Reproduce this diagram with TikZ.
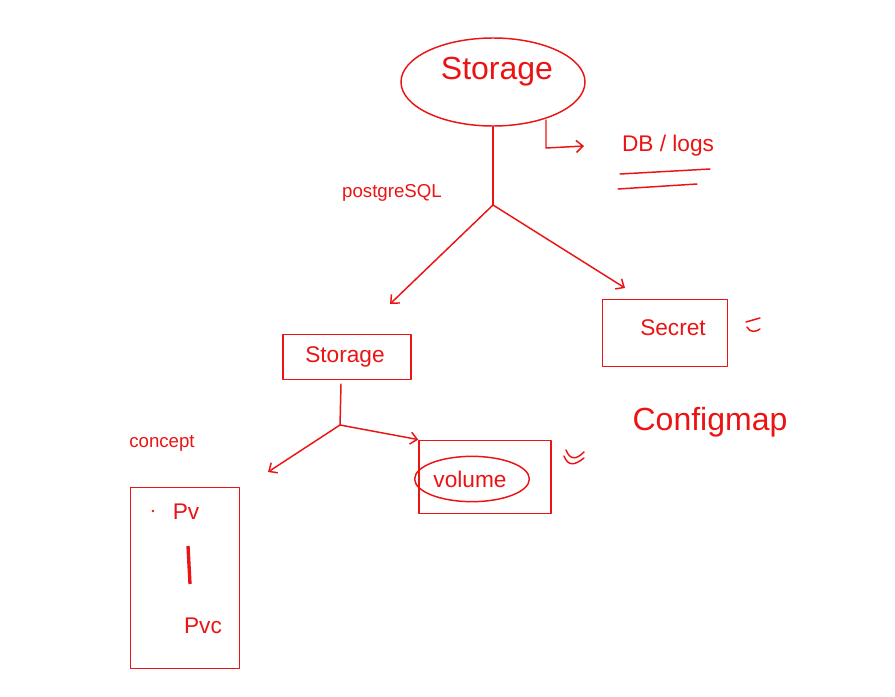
\documentclass[tikz,border=0pt]{standalone}
\usepackage{fontspec}
\setmainfont{Liberation Sans}
\usetikzlibrary{arrows.meta,shapes.geometric}
\definecolor{ink}{RGB}{235,20,20}
\begin{document}
\begin{tikzpicture}[x=0.75pt,y=-0.75pt,
  pen/.style={draw=ink,line width=1.1pt,line cap=round,line join=round},
  lbl/.style={text=ink,inner sep=0pt},
  arr/.style={pen,-{Straight Barb[length=5pt,width=9pt]}},
  big/.style={lbl,font=\fontsize{24}{24}\selectfont},
  mid/.style={lbl,font=\fontsize{17}{17}\selectfont},
  small/.style={lbl,font=\fontsize{14}{14}\selectfont}]
\useasboundingbox (0,0) rectangle (895,696);
\fill[white] (0,0) rectangle (895,696);
% top storage ellipse
\node[pen,ellipse,minimum width=138pt,minimum height=66pt] (top) at (493,82) {};
\node[big] (toptxt) at (497,72) {Storage};
% elbow arrow to DB/logs
\coordinate (e1) at (546,120);
\coordinate (e2) at (546,148);
\node[mid] (db) at (668,146) {DB / logs};
\coordinate (dbtip) at (584,146);
\draw[arr] (e1) -- (e2) -- (dbtip);
\coordinate (u1a) at (620,174); \coordinate (u1b) at (710,169);
\coordinate (u2a) at (618,189); \coordinate (u2b) at (697,184);
\draw[pen] (u1a) -- (u1b);
\draw[pen] (u2a) -- (u2b);
% trunk
\coordinate (fork) at (493,205);
\draw[pen] (top.south) -- (fork);
\node[small] (pg) at (392,193) {postgreSQL};
% second storage box
\node[pen,rectangle,minimum width=96pt,minimum height=34pt,inner sep=0pt] (st2) at (347,357) {};
\node[mid] (st2txt) at (345,357) {Storage};
\coordinate (st2tip) at (390,304);
\draw[arr] (fork) -- (st2tip);
% secret
\node[pen,rectangle,minimum width=94pt,minimum height=50pt,inner sep=0pt] (sec) at (665,333) {};
\node[mid] (sectxt) at (673,328) {Secret};
\coordinate (sectip) at (625,288);
\draw[arr] (fork) -- (sectip);
\node[big] (cfg) at (710,422) {Configmap};
% check mark
\draw[pen] (746,322) -- (760,318);
\draw[pen] (747,327) .. controls (750,333) and (756,332) .. (760,329);
% fork under storage 2
\coordinate (s2out) at (341,384);
\coordinate (fork2) at (340,425);
\draw[pen] (s2out) -- (fork2);
\coordinate (lefttip) at (268,472);
\draw[arr] (fork2) -- (lefttip);
% volume box
\node[pen,rectangle,minimum width=99pt,minimum height=55pt,inner sep=0pt] (vol) at (485,477) {};
\node[pen,ellipse,minimum width=86pt,minimum height=34pt] (volell) at (472,479) {};
\node[mid] (voltxt) at (470,479) {volume};
\draw[arr] (fork2) -- (vol.north west);
% double chevron mark
\draw[pen] (564,456) .. controls (568,466) and (574,466) .. (584,458);
\draw[pen] (566,450) .. controls (570,460) and (576,460) .. (584,452);
% concept
\node[small] (concept) at (162,443) {concept};
% pv/pvc box
\node[pen,rectangle,minimum width=82pt,minimum height=136pt,inner sep=0pt] (pbox) at (185,578) {};
\node[mid] (pv) at (186,512) {Pv};
\node[mid] (pvc) at (203,626) {Pvc};
\coordinate (barA) at (188,546);
\coordinate (barB) at (190,584);
\draw[draw=ink,line width=2.5pt] (barA) -- (barB);
\fill[ink] (153,511) circle (1pt);
\end{tikzpicture}
\end{document}
